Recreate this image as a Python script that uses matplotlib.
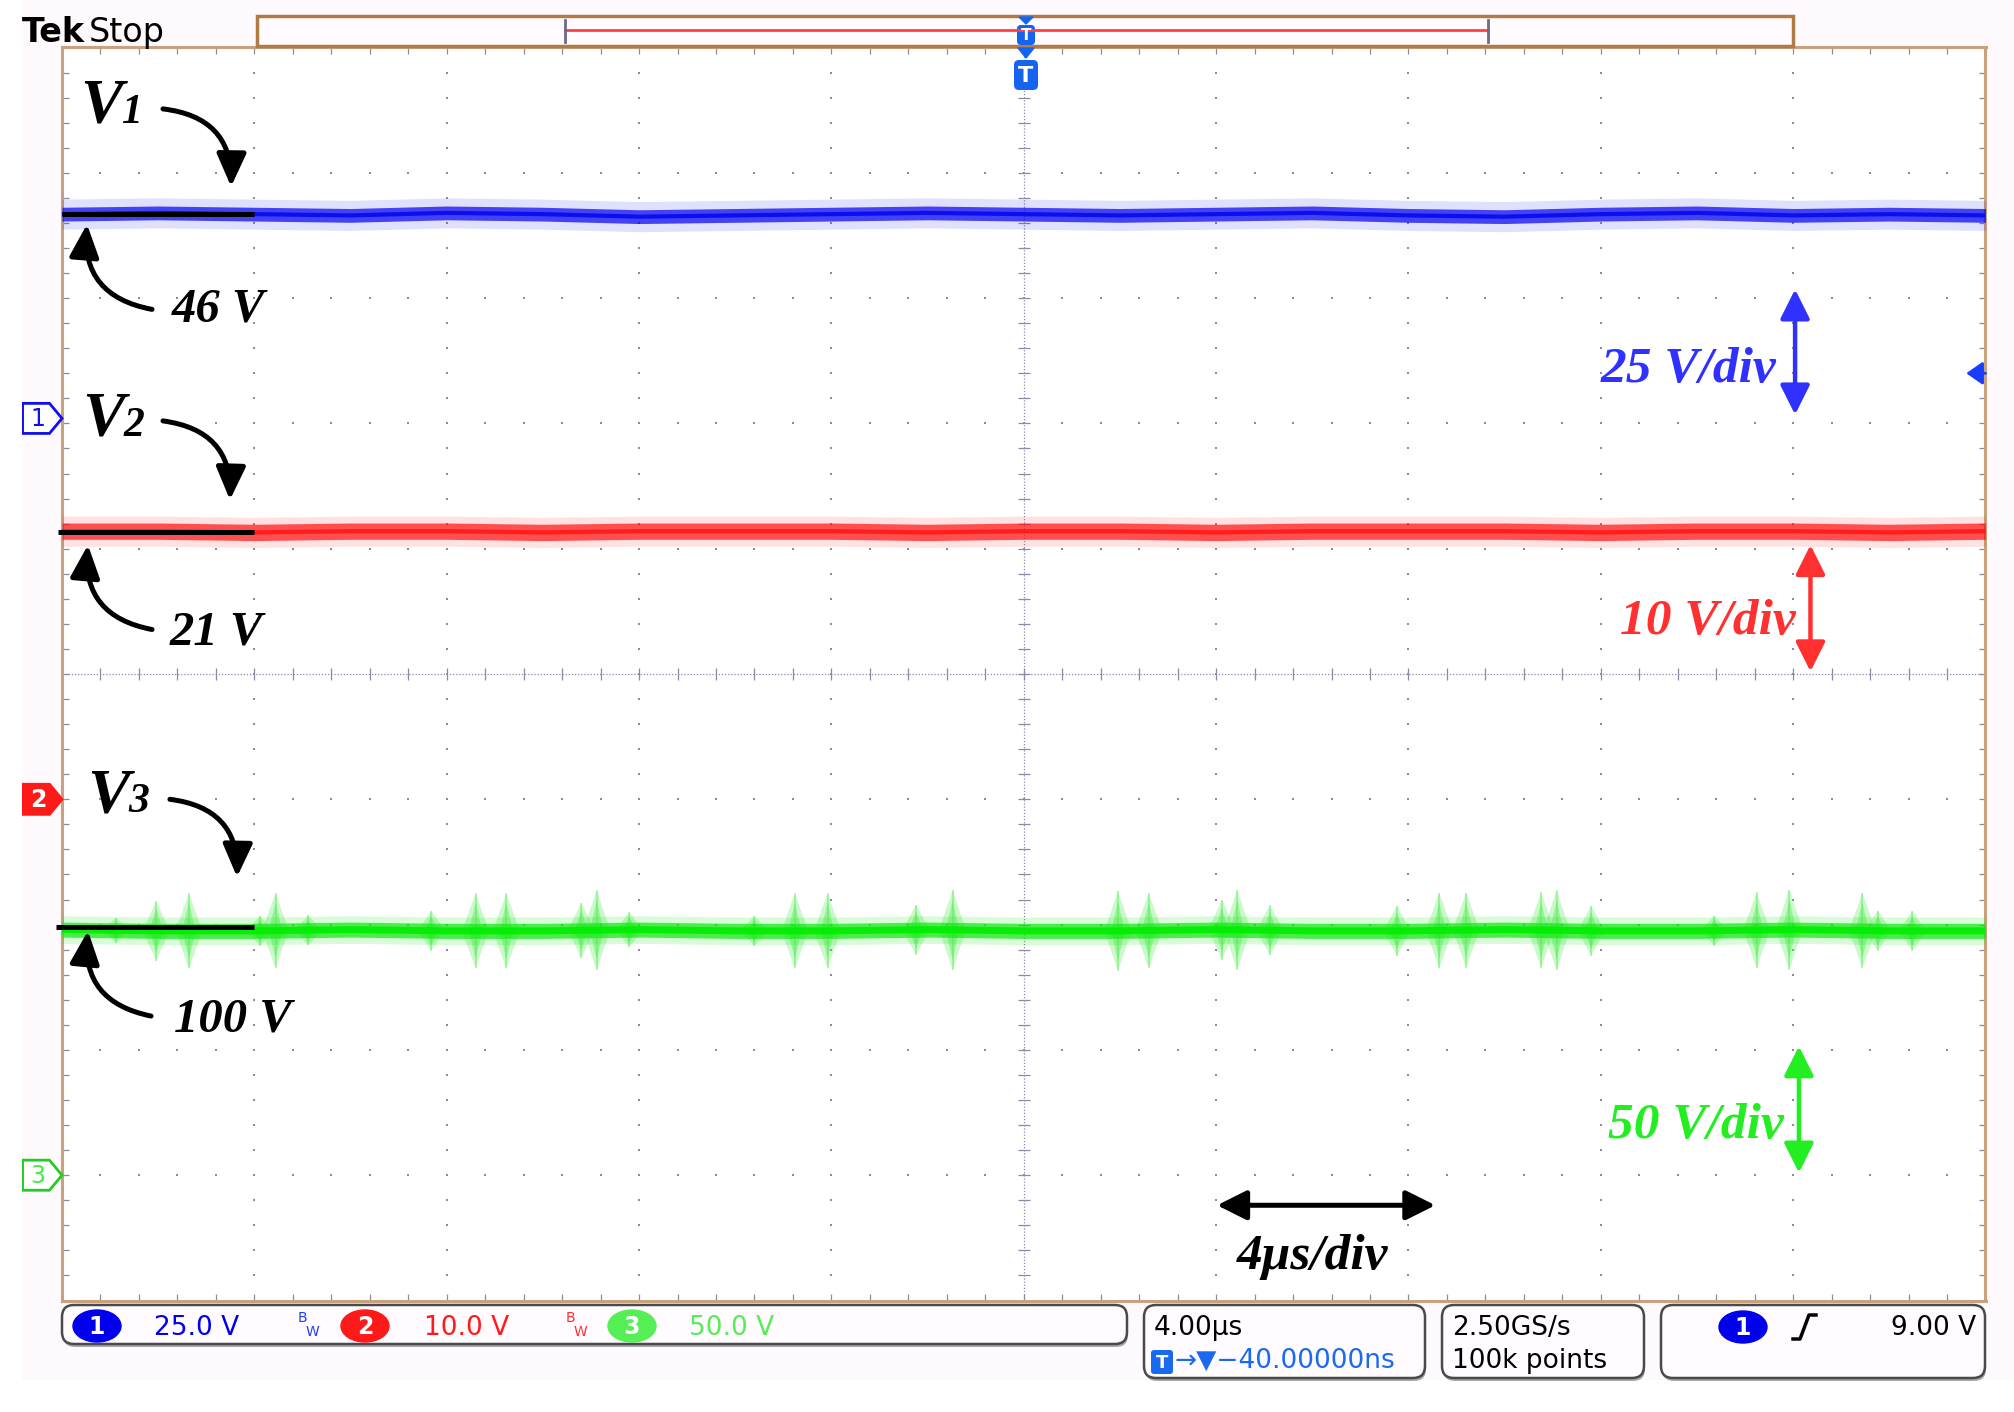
import matplotlib.pyplot as plt
import numpy as np
from matplotlib.patches import (Ellipse, FancyArrowPatch, FancyBboxPatch,
                                Polygon, Rectangle)

# ---- values (x: 0..10 div, y: -5..5 div) ----
trace_x = [0.0, 0.5, 1.0, 1.5, 2.0, 2.5, 3.0, 3.5, 4.0, 4.5, 5.0,
           5.5, 6.0, 6.5, 7.0, 7.5, 8.0, 8.5, 9.0, 9.5, 10.0]
ch1_level = [3.67, 3.68, 3.67, 3.66, 3.68, 3.67, 3.65, 3.66, 3.67, 3.68, 3.67,
             3.66, 3.67, 3.68, 3.66, 3.65, 3.67, 3.68, 3.66, 3.67, 3.66]
ch2_level = [1.14, 1.14, 1.13, 1.14, 1.14, 1.13, 1.14, 1.14, 1.14, 1.13, 1.14,
             1.14, 1.13, 1.14, 1.14, 1.14, 1.13, 1.14, 1.14, 1.13, 1.14]
ch3_level = [-2.04, -2.05, -2.05, -2.04, -2.05, -2.05, -2.04, -2.05, -2.05, -2.04, -2.05,
             -2.05, -2.04, -2.05, -2.05, -2.04, -2.05, -2.05, -2.04, -2.05, -2.05]

# switching ringing bursts seen on channel 3: position and half height (div)
burst_x = [0.28, 0.49, 0.66, 1.03, 1.11, 1.28, 1.92, 2.15, 2.31, 2.70, 2.78, 2.95,
           3.60, 3.81, 3.98, 4.44, 4.63, 5.49, 5.65, 6.03, 6.11, 6.28, 6.94, 7.16,
           7.30, 7.69, 7.77, 7.95, 8.59, 8.81, 8.98, 9.36, 9.44, 9.62]
burst_amp = [0.10, 0.24, 0.30, 0.12, 0.30, 0.12, 0.16, 0.30, 0.30, 0.22, 0.32, 0.14,
             0.12, 0.30, 0.30, 0.20, 0.32, 0.32, 0.30, 0.24, 0.32, 0.20, 0.20, 0.30,
             0.30, 0.30, 0.32, 0.20, 0.12, 0.30, 0.32, 0.30, 0.16, 0.16]

names = ['V', 'V', 'V']
digits = ['1', '2', '3']
ref_labels = ['46 V', '21 V', '100 V']
ref_level = [3.67, 1.135, -2.02]
ref_start = [0.0, -0.02, -0.03]
ch_offset = [2.04, -1.0, -4.0]
trig_level = 2.40
scale_labels = ['25 V/div', '10 V/div', '50 V/div']
ch_volts = ['25.0 V', '10.0 V', '50.0 V']

blue, red, green = '#0000f0', '#ff1010', '#10e810'
lbl_blue, lbl_red, lbl_green = '#3030ff', '#ff3030', '#22ee22'
grid_col = '#8a8aa8'
frame_col = '#c8a27c'
serif = ['Liberation Serif', 'DejaVu Serif']
sans = ['DejaVu Sans']

W, H = 2015, 1412
fig = plt.figure(figsize=(W / 100, H / 100), dpi=100)
fig.patch.set_facecolor('#fdf9fd')

# scope graticule: 10 x 10 divisions
ax = fig.add_axes([62 / W, 1 - 1300.5 / H, 1923.5 / W, 1253 / H])
ax.set_xlim(0, 10)
ax.set_ylim(-5, 5)
ax.set_xticks([])
ax.set_yticks([])
ax.set_facecolor('white')
for s in ax.spines.values():
    s.set_color(frame_col)
    s.set_linewidth(2.2)

fx = np.arange(0, 10.001, 0.2)
fy = np.arange(-5, 5.001, 0.2)
for gy in [-4, -3, -2, -1, 1, 2, 3, 4]:
    ax.plot(fx, np.full(len(fx), gy), ls='none', marker='s', ms=1.6, mew=0, color=grid_col)
for gx in [1, 2, 3, 4, 6, 7, 8, 9]:
    ax.plot(np.full(len(fy), gx), fy, ls='none', marker='s', ms=1.6, mew=0, color=grid_col)
ax.axhline(0, color=grid_col, lw=0.9, ls=(0, (1, 1.5)))
ax.axvline(5, color=grid_col, lw=0.9, ls=(0, (1, 1.5)))
ax.plot(fx, np.zeros(len(fx)), ls='none', marker='|', ms=9, mew=0.9, color=grid_col)
ax.plot(np.full(len(fy), 5), fy, ls='none', marker='_', ms=9, mew=0.9, color=grid_col)
# inward ticks on the frame
for ex in [0, 10]:
    ax.plot(np.full(len(fy), ex), fy, ls='none', marker='_', ms=10, mew=0.9, color=grid_col)
for ey in [-5, 5]:
    ax.plot(fx, np.full(len(fx), ey), ls='none', marker='|', ms=10, mew=0.9, color=grid_col)

# traces
tx = np.array(trace_x)
for lvl, col, fr, core in [(ch1_level, blue, 0.12, 0.055),
                           (ch2_level, red, 0.12, 0.065)]:
    lvl = np.array(lvl)
    ax.fill_between(tx, lvl - fr, lvl + fr, color=col, alpha=0.12, lw=0, zorder=3)
    ax.fill_between(tx, lvl - core, lvl + core, color=col, alpha=0.7, lw=0, zorder=3)
    ax.plot(tx, lvl, color=col, lw=3, alpha=0.8, zorder=3)

g = np.array(ch3_level)
gmid = np.interp(burst_x, tx, g)
for bx, bm, ba in zip(burst_x, gmid, burst_amp):
    ax.fill([bx - 0.07, bx, bx + 0.07, bx], [bm, bm + ba, bm, bm - ba],
            color='#55ee55', alpha=0.3, lw=0, zorder=3)
    ax.fill([bx - 0.035, bx, bx + 0.035, bx], [bm, bm + 0.75 * ba, bm, bm - 0.75 * ba],
            color='#33e833', alpha=0.35, lw=0, zorder=3)
ax.vlines(burst_x, gmid - np.array(burst_amp), gmid + np.array(burst_amp),
          color='#44ee44', alpha=0.45, lw=1.2, zorder=3)
ax.fill_between(tx, g - 0.11, g + 0.11, color=green, alpha=0.16, lw=0, zorder=3)
ax.fill_between(tx, g - 0.06, g + 0.06, color=green, alpha=0.7, lw=0, zorder=3)
ax.plot(tx, g, color='#00ee00', lw=5, alpha=0.9, zorder=3)

# black reference lines, labels and curved arrows
name_pos = [(0.094, 4.40), (0.104, 1.90), (0.130, -1.105)]
digit_dx = [0.215, 0.215, 0.215]
down_arrow = [((0.525, 4.51), (0.879, 3.89)),
              ((0.525, 2.02), (0.873, 1.39)),
              ((0.561, -1.00), (0.910, -1.62))]
up_arrow = [((0.468, 2.91), (0.130, 3.59)),
            ((0.468, 0.355), (0.135, 1.03)),
            ((0.463, -2.73), (0.135, -2.05))]
val_pos = [(0.572, 2.81), (0.561, 0.235), (0.582, -2.85)]
head = '-|>,head_length=1.0,head_width=0.45'
for i in range(3):
    ax.plot([ref_start[i], 1.0], [ref_level[i]] * 2, color='black', lw=3.6,
            solid_capstyle='butt', clip_on=False, zorder=6)
    nx, ny = name_pos[i]
    ax.text(nx, ny, names[i], fontsize=46, family=serif, weight='bold',
            style='italic', va='baseline', zorder=7)
    ax.text(nx + digit_dx[i], ny, digits[i], fontsize=30, family=serif,
            weight='bold', style='italic', va='baseline', zorder=7)
    a, b = down_arrow[i]
    ax.add_patch(FancyArrowPatch(a, b, connectionstyle='arc3,rad=-0.45', arrowstyle=head,
                                 mutation_scale=20, lw=3.6, color='black',
                                 shrinkA=0, shrinkB=0, zorder=7))
    a, b = up_arrow[i]
    ax.add_patch(FancyArrowPatch(a, b, connectionstyle='arc3,rad=-0.45', arrowstyle=head,
                                 mutation_scale=20, lw=3.6, color='black',
                                 shrinkA=0, shrinkB=0, zorder=7))
    vx, vy = val_pos[i]
    ax.text(vx, vy, ref_labels[i], fontsize=35, family=serif, weight='bold',
            style='italic', va='baseline', zorder=7)

# volts/div annotations
dbl = '<|-|>,head_length=0.9,head_width=0.45'
sc_text = [(8.0, 2.334), (8.10, 0.316), (8.04, -3.70)]
sc_arrow = [(9.01, 3.07, 2.07), (9.09, 1.03, 0.02), (9.03, -2.97, -3.98)]
sc_col = [lbl_blue, lbl_red, lbl_green]
for i in range(3):
    ax.text(sc_text[i][0], sc_text[i][1], scale_labels[i], fontsize=37, family=serif,
            weight='bold', style='italic', color=sc_col[i], va='baseline', zorder=7)
    x0, y0, y1 = sc_arrow[i]
    ax.add_patch(FancyArrowPatch((x0, y0), (x0, y1), arrowstyle=dbl, mutation_scale=20,
                                 lw=3.2, color=sc_col[i], shrinkA=0, shrinkB=0, zorder=7))
ax.add_patch(FancyArrowPatch((6.005, -4.24), (7.14, -4.24), arrowstyle=dbl, mutation_scale=20,
                             lw=3.6, color='black', shrinkA=0, shrinkB=0, zorder=7))
ax.text(6.11, -4.75, '4\u03bcs/div', fontsize=37, family=serif, style='italic',
        weight='bold', color='black', va='baseline', zorder=7)

# channel ground markers on the left edge
mk_face = ['white', '#ff1a1a', 'white']
mk_edge = ['#1010ee', '#ff1a1a', '#22cc22']
mk_text = ['#1010ee', 'white', '#44ee44']
for i in range(3):
    o = ch_offset[i]
    ax.add_patch(Polygon([(-0.205, o + 0.12), (-0.065, o + 0.12), (0.0, o),
                          (-0.065, o - 0.12), (-0.205, o - 0.12)], closed=True,
                         fc=mk_face[i], ec=mk_edge[i], lw=2, clip_on=False, zorder=8))
    ax.text(-0.125, o - 0.005, digits[i], fontsize=17, family=sans, color=mk_text[i],
            weight='bold' if i == 1 else 'normal', ha='center', va='center',
            clip_on=False, zorder=9)
# trigger level arrow on the right edge
ax.add_patch(FancyArrowPatch((10.0, trig_level), (9.9, trig_level),
                             arrowstyle='-|>,head_length=0.5,head_width=0.35',
                             mutation_scale=20, lw=2, color='#1a3cff',
                             shrinkA=0, shrinkB=0, clip_on=False, zorder=8))

# ---- screen furniture in pixel coordinates ----
ov = fig.add_axes([0, 0, 1, 1], zorder=5)
ov.set_xlim(0, W)
ov.set_ylim(H, 0)
ov.axis('off')
ov.patch.set_alpha(0)

ov.add_patch(Rectangle((0, 1380), W, 32, color='white', lw=0))
ov.add_patch(Rectangle((0, 0), 22, H, color='white', lw=0))

ov.text(22, 42, 'Tek', fontsize=24, family=sans, weight='bold', va='baseline')
ov.text(89, 42, 'Stop', fontsize=24, family=sans, va='baseline')

# record view bar
ov.add_patch(Rectangle((257, 16), 1536, 30, fc='#fffbff', ec='#b27a44', lw=2.5))
ov.plot([565, 1488], [30, 30], color='#ff4040', lw=2)
for bx in [565, 1488]:
    ov.plot([bx, bx], [20, 42], color='#6a6a8a', lw=2)
ov.add_patch(Polygon([(1019, 17), (1033, 17), (1026, 24)], closed=True, color='#1464f0'))
ov.add_patch(FancyBboxPatch((1017, 25), 18, 20, boxstyle='round,pad=0,rounding_size=4',
                            fc='#1464f0', ec='none'))
ov.text(1026, 36, 'T', fontsize=11, color='white', weight='bold', ha='center', va='center')
ov.add_patch(Polygon([(1018, 48), (1034, 48), (1026, 58)], closed=True, color='#1464f0'))
ov.add_patch(FancyBboxPatch((1014, 60), 24, 30, boxstyle='round,pad=0,rounding_size=5',
                            fc='#1464f0', ec='none'))
ov.text(1026, 76, 'T', fontsize=16, color='white', weight='bold', ha='center', va='center')

# status boxes
def status_box(x, y, w, h):
    ov.add_patch(FancyBboxPatch((x + 1, y + 3), w, h, boxstyle='round,pad=0,rounding_size=12',
                                fc='#a8a8a8', ec='none'))
    ov.add_patch(FancyBboxPatch((x, y), w, h, boxstyle='round,pad=0,rounding_size=12',
                                fc='#fffbff', ec='#4a4a4a', lw=1.8))

status_box(62, 1305, 1065, 39)
status_box(1144, 1305, 281, 73)
status_box(1442, 1305, 202, 73)
status_box(1661, 1305, 324, 73)

circ_x = [97, 365, 632]
circ_col = ['#0000ee', '#ff1a1a', '#55ee55']
volt_x = [154, 424, 689]
volt_col = ['#0000ee', '#ff1a1a', '#55ee55']
for i in range(3):
    ov.add_patch(Ellipse((circ_x[i], 1326), 48, 32, color=circ_col[i]))
    ov.text(circ_x[i], 1327, digits[i], fontsize=17, color='white', weight='bold',
            ha='center', va='center', family=sans)
    ov.text(volt_x[i], 1335, ch_volts[i], fontsize=19, color=volt_col[i],
            va='baseline', family=sans)
for bx, col in [(298, '#2040ff'), (566, '#ff3030')]:
    ov.text(bx, 1322, 'B', fontsize=10, color=col, va='baseline', family=sans)
    ov.text(bx + 8, 1336, 'W', fontsize=10, color=col, va='baseline', family=sans)

ov.text(1154, 1335, '4.00\u00b5s', fontsize=19, va='baseline', family=sans)
ov.add_patch(FancyBboxPatch((1151, 1350), 22, 24, boxstyle='round,pad=0,rounding_size=3',
                            fc='#1a6af0', ec='none'))
ov.text(1162, 1363, 'T', fontsize=13, color='white', weight='bold', ha='center',
        va='center', family=sans)
ov.text(1175, 1368, '\u2192\u25bc\u221240.00000ns', fontsize=19, color='#1a6af0',
        va='baseline', family=sans)
ov.text(1452, 1335, '2.50GS/s', fontsize=19, va='baseline', family=sans)
ov.text(1452, 1368, '100k points', fontsize=19, va='baseline', family=sans)
ov.add_patch(Ellipse((1743, 1327), 48, 32, color='#0000ee'))
ov.text(1743, 1328, '1', fontsize=17, color='white', weight='bold', ha='center',
        va='center', family=sans)
ov.plot([1793, 1800, 1809, 1816], [1339, 1339, 1315, 1315], color='black', lw=2.5)
ov.text(1976, 1335, '9.00 V', fontsize=19, ha='right', va='baseline', family=sans)

fig.savefig('out.png', dpi=100, facecolor=fig.get_facecolor())
